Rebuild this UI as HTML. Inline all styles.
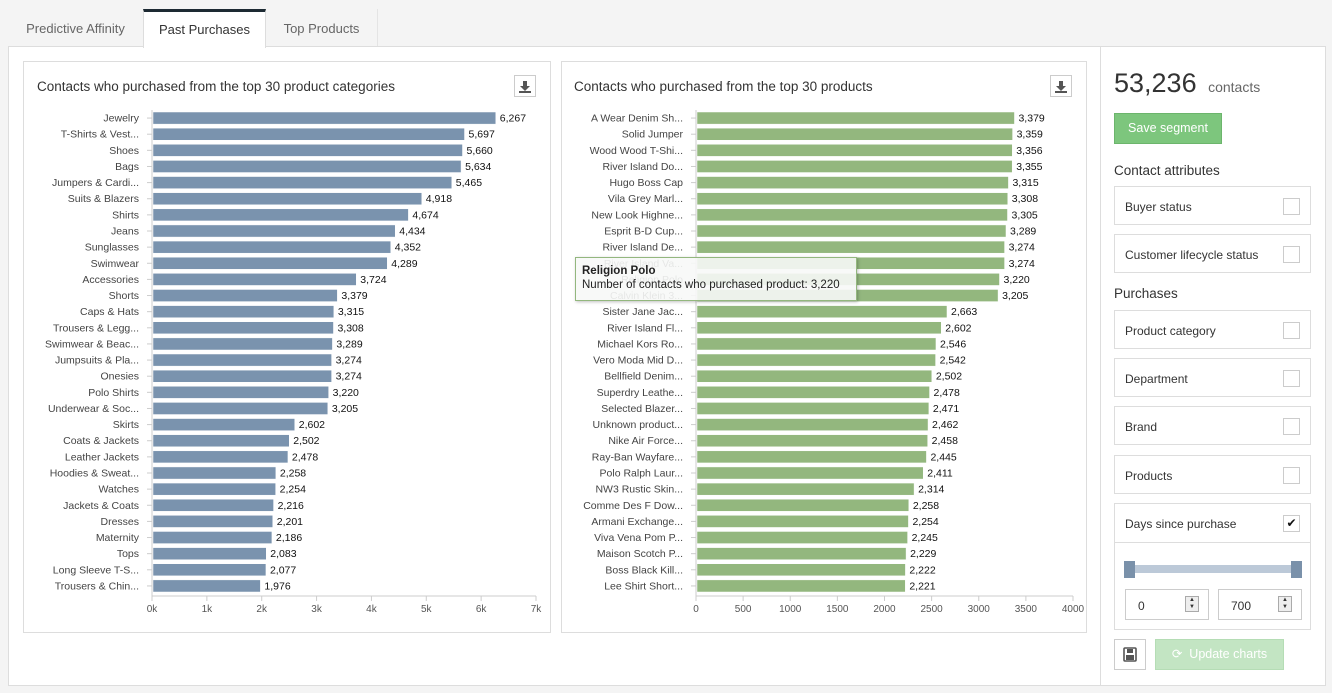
<!DOCTYPE html>
<html><head><meta charset="utf-8"><style>
*{box-sizing:border-box}
body{margin:0;width:1332px;height:693px;background:#f4f4f4;font-family:"Liberation Sans",sans-serif;position:relative;overflow:hidden;color:#333}
.abs{position:absolute}
.tab{position:absolute;top:9px;height:38px;font-size:13px;color:#666;padding-top:12px;text-align:center}
.card{position:absolute;background:#fff;border:1px solid #ddd}
.box{position:absolute;left:1114px;width:197px;border:1px solid #ddd;background:#fff;font-size:12px;color:#333}
.box span{position:absolute;left:10px;top:13px}
.cb{position:absolute;right:10px;top:11px;width:17px;height:17px;border:1px solid #ccc;background:#fff}
.sec{position:absolute;left:1114px;font-size:13.5px;color:#333}
svg text{font-family:"Liberation Sans",sans-serif}
</style></head><body>
<div class="tab" style="left:8px;width:135px">Predictive Affinity</div>
<div class="tab" style="left:143px;width:123px;background:#fff;border-top:3px solid #1d2a33;border-left:1px solid #ddd;border-right:1px solid #ddd;color:#333;padding-top:10px;height:39px;z-index:2">Past Purchases</div>
<div class="tab" style="left:266px;width:112px;border-right:1px solid #e4e4e4">Top Products</div>
<div class="abs" style="left:8px;top:46px;width:1318px;height:640px;background:#fff;border:1px solid #ddd"></div>
<div class="abs" style="left:1100px;top:46px;width:1px;height:640px;background:#ddd"></div>

<div class="card" style="left:23px;top:61px;width:528px;height:572px"></div>
<div class="card" style="left:561px;top:61px;width:526px;height:572px"></div>
<div class="abs" style="left:37px;top:79px;font-size:13.5px;color:#333">Contacts who purchased from the top 30 product categories</div>
<div class="abs" style="left:574px;top:79px;font-size:13.5px;color:#333">Contacts who purchased from the top 30 products</div>
<div class="abs" style="left:514px;top:75px;width:22px;height:22px;border:1px solid #ccc"><svg width="20" height="20"><path d="M8 5h4v5h3l-5 5-5-5h3z M4 15h12v2H4z" fill="#555"/></svg></div>
<div class="abs" style="left:1050px;top:75px;width:22px;height:22px;border:1px solid #ccc"><svg width="20" height="20"><path d="M8 5h4v5h3l-5 5-5-5h3z M4 15h12v2H4z" fill="#555"/></svg></div>

<svg class="abs" id="chart" style="left:0;top:0" width="1332" height="693"></svg>

<div class="abs" style="left:575px;top:257px;width:282px;height:44px;background:rgba(247,248,247,0.9);border:1px solid #93b77e;box-shadow:1px 1px 3px rgba(0,0,0,.25);font-size:11.5px;padding:6px 0 0 6px;line-height:14px;color:#222"><b>Religion Polo</b><br>Number of contacts who purchased product: 3,220</div>

<div class="abs" style="left:1114px;top:68px;font-size:27px;color:#333">53,236 <span style="font-size:14px;color:#666;margin-left:4px">contacts</span></div>
<div class="abs" style="left:1114px;top:113px;width:108px;height:31px;background:#7dc67d;border:1px solid #6cb56c;color:#fff;font-size:12.5px;text-align:center;line-height:29px">Save segment</div>
<div class="sec" style="top:163px">Contact attributes</div>
<div class="box" style="top:186px;height:39px"><span>Buyer status</span><div class="cb"></div></div>
<div class="box" style="top:234px;height:39px"><span>Customer lifecycle status</span><div class="cb"></div></div>
<div class="sec" style="top:286px">Purchases</div>
<div class="box" style="top:310px;height:39px"><span>Product category</span><div class="cb"></div></div>
<div class="box" style="top:358px;height:39px"><span>Department</span><div class="cb"></div></div>
<div class="box" style="top:406px;height:39px"><span>Brand</span><div class="cb"></div></div>
<div class="box" style="top:455px;height:39px"><span>Products</span><div class="cb"></div></div>
<div class="box" style="top:503px;height:127px">
 <span>Days since purchase</span><div class="cb" style="font-size:12px;line-height:15px;text-align:center;color:#111">✔</div>
 <div class="abs" style="left:0;top:38px;width:195px;height:1px;background:#ddd"></div>
 <div class="abs" style="left:10px;top:61px;width:176px;height:8px;background:#bcc9d8"></div>
 <div class="abs" style="left:9px;top:57px;width:11px;height:17px;background:#7a91aa"></div>
 <div class="abs" style="left:176px;top:57px;width:11px;height:17px;background:#7a91aa"></div>
 <div class="abs" style="left:10px;top:85px;width:84px;height:31px;border:1px solid #ccc;font-size:12px;padding:9px 0 0 12px">0<div class="abs" style="left:59px;top:6px;width:14px;height:16px;border:1px solid #aaa;background:#eee;font-size:6px;line-height:7px;text-align:center">▲<br>▼</div></div>
 <div class="abs" style="left:103px;top:85px;width:84px;height:31px;border:1px solid #ccc;font-size:12px;padding:9px 0 0 12px">700<div class="abs" style="left:59px;top:6px;width:14px;height:16px;border:1px solid #aaa;background:#eee;font-size:6px;line-height:7px;text-align:center">▲<br>▼</div></div>
</div>
<div class="abs" style="left:1114px;top:639px;width:32px;height:31px;border:1px solid #ccc"><svg width="30" height="29"><rect x="9" y="8" width="12" height="13" rx="1" fill="none" stroke="#555" stroke-width="1.6"/><rect x="12" y="9" width="6" height="4" fill="#555"/><rect x="11" y="15" width="8" height="5" fill="#555"/></svg></div>
<div class="abs" style="left:1155px;top:639px;width:129px;height:31px;background:#c3e5c3;border:1px solid #b5ddb5;color:#fff;font-size:12.5px;text-align:center;line-height:29px">⟳&nbsp; Update charts</div>

<script>
const catLabels=["Jewelry","T-Shirts & Vest...","Shoes","Bags","Jumpers & Cardi...","Suits & Blazers","Shirts","Jeans","Sunglasses","Swimwear","Accessories","Shorts","Caps & Hats","Trousers & Legg...","Swimwear & Beac...","Jumpsuits & Pla...","Onesies","Polo Shirts","Underwear & Soc...","Skirts","Coats & Jackets","Leather Jackets","Hoodies & Sweat...","Watches","Jackets & Coats","Dresses","Maternity","Tops","Long Sleeve T-S...","Trousers & Chin..."];
const catValues=[6267,5697,5660,5634,5465,4918,4674,4434,4352,4289,3724,3379,3315,3308,3289,3274,3274,3220,3205,2602,2502,2478,2258,2254,2216,2201,2186,2083,2077,1976];
const catTicks=[0,1000,2000,3000,4000,5000,6000,7000];
const catTickLabels=["0k","1k","2k","3k","4k","5k","6k","7k"];
const prodLabels=["A Wear Denim Sh...","Solid Jumper","Wood Wood T-Shi...","River Island Do...","Hugo Boss Cap","Vila Grey Marl...","New Look Highne...","Esprit B-D Cup...","River Island De...","River Island Va...","Religion Polo","Calvin Klein 3...","Sister Jane Jac...","River Island Fl...","Michael Kors Ro...","Vero Moda Mid D...","Bellfield Denim...","Superdry Leathe...","Selected Blazer...","Unknown product...","Nike Air Force...","Ray-Ban Wayfare...","Polo Ralph Laur...","NW3 Rustic Skin...","Comme Des F Dow...","Armani Exchange...","Viva Vena Pom P...","Maison Scotch P...","Boss Black Kill...","Lee Shirt Short..."];
const prodValues=[3379,3359,3356,3355,3315,3308,3305,3289,3274,3274,3220,3205,2663,2602,2546,2542,2502,2478,2471,2462,2458,2445,2411,2314,2258,2254,2245,2229,2222,2221];
const prodTicks=[0,500,1000,1500,2000,2500,3000,3500,4000];
const prodTickLabels=["0","500","1000","1500","2000","2500","3000","3500","4000"];

const svg=document.getElementById('chart');
const NS="http://www.w3.org/2000/svg";
function mk(tag,attrs,parent){const e=document.createElementNS(NS,tag);for(const k in attrs)e.setAttribute(k,attrs[k]);(parent||svg).appendChild(e);return e;}
function fmt(v){return v.toLocaleString('en-US');}
function draw(name,labels,values,ticks,tickLabels,x0,x1,max,color){
  const g=mk('g',{});
  
  
  const xs=v=>x0+(x1-x0)*v/max;
  const top=110,bottom=594,step=(bottom-top)/labels.length;
  const ys=i=>top+step*i;
  mk('line',{x1:x0,y1:top,x2:x0,y2:bottom+2,stroke:'#ccc'},g);
  mk('line',{x1:x0,y1:bottom+2,x2:x1,y2:bottom+2,stroke:'#ccc'},g);
  ticks.forEach((t,i)=>{
    const x=xs(t);
    mk('line',{x1:x,y1:bottom+2,x2:x,y2:bottom+7,stroke:'#ccc'},g);
    const tx=mk('text',{x:x,y:bottom+18,'font-size':10,fill:'#555','text-anchor':'middle'},g);
    tx.textContent=tickLabels[i];
    
    
  });
  labels.forEach((l,i)=>{
    const y=ys(i);
    mk('line',{x1:x0-5,y1:y+step/2,x2:x0,y2:y+step/2,stroke:'#ccc'},g);
    const lt=mk('text',{x:x0-13,y:y+step/2+3.5,'font-size':10.5,fill:'#444','text-anchor':'end'},g);
    lt.textContent=l;
    
    
    const b=mk('rect',{x:x0+1,y:y+2,width:xs(values[i])-x0-1,height:step-4,fill:color,stroke:'#fff','stroke-width':0.5},g);
    
    
    const vt=mk('text',{x:xs(values[i])+4,y:y+step/2+3.5,'font-size':10.5,fill:'#111'},g);
    vt.textContent=fmt(values[i]);
    
    
  });
}
draw('categories',catLabels,catValues,catTicks,catTickLabels,152,536,7000,'#7a93ae');
draw('products',prodLabels,prodValues,prodTicks,prodTickLabels,696,1073,4000,'#93b77e');
</script>
</body></html>
